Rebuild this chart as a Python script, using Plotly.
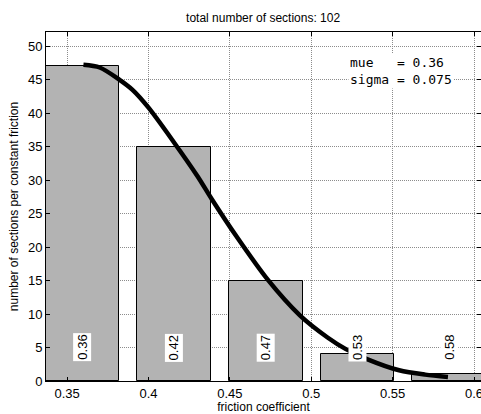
import plotly.graph_objects as go

# histogram bins (bar centers) and counts
bin_centers = [0.3592, 0.4156, 0.4720, 0.5284, 0.5848]
counts = [47, 35, 15, 4, 1]
bin_labels = ["0.36", "0.42", "0.47", "0.53", "0.58"]
bar_width = 0.0453

# fitted distribution curve
curve_x = [0.360, 0.370, 0.382, 0.390, 0.400, 0.416, 0.430, 0.439, 0.454, 0.473, 0.493, 0.510, 0.521, 0.535, 0.554, 0.570, 0.584]
curve_y = [47.2, 46.8, 45.0, 43.5, 40.8, 35.5, 30.6, 27.1, 21.6, 15.2, 9.8, 6.5, 4.8, 3.2, 1.6, 0.95, 0.6]

x_ticks = [0.35, 0.4, 0.45, 0.5, 0.55, 0.6]
x_tick_text = ["0.35", "0.4", "0.45", "0.5", "0.55", "0.6"]
y_ticks = [0, 5, 10, 15, 20, 25, 30, 35, 40, 45, 50]

title_text = "total number of sections: 102"
stats_text = "mue\u00a0\u00a0\u00a0=\u00a00.36<br>sigma\u00a0=\u00a00.075"

fig = go.Figure()
fig.add_trace(go.Bar(
    x=bin_centers, y=counts, width=bar_width,
    marker=dict(color="#b3b3b3", line=dict(color="black", width=1)),
    showlegend=False, hoverinfo="skip",
))
fig.add_trace(go.Scatter(
    x=curve_x, y=curve_y, mode="lines",
    line=dict(color="black", width=4.5, shape="spline", smoothing=0.8),
    showlegend=False, hoverinfo="skip",
))

for cx, lab in zip(bin_centers, bin_labels):
    fig.add_annotation(
        x=cx, y=5, text=lab, textangle=-90, showarrow=False,
        bgcolor="white", font=dict(size=13, color="black", family="Liberation Sans, Arial"),
        borderpad=1,
    )

fig.add_annotation(
    x=0.5225, y=46.3, xanchor="left", yanchor="middle", text=stats_text,
    showarrow=False, align="left", bgcolor="white",
    font=dict(size=13, color="black", family="DejaVu Sans Mono, monospace"),
    borderpad=1,
)

axis_common = dict(
    showline=True, linecolor="black", linewidth=1, mirror="ticks",
    ticks="inside", ticklen=4, tickcolor="black",
    showgrid=True, gridcolor="#8c8c8c", griddash="1px,1px", gridwidth=1,
    zeroline=False, automargin=False,
    tickfont=dict(size=13, color="black", family="Liberation Sans, Arial"),
)

fig.update_layout(
    width=481, height=414,
    margin=dict(l=46, r=0, t=32, b=33),
    plot_bgcolor="white", paper_bgcolor="white",
    title=dict(text=title_text, x=0.547, xanchor="center", y=0.958, yanchor="middle",
               font=dict(size=12, color="black", family="Liberation Sans, Arial")),
    bargap=0,
    xaxis=dict(range=[0.337, 0.6043], tickvals=x_ticks, ticktext=x_tick_text,
               ticklabeloverflow="allow",
               title=dict(text="friction coefficient", standoff=8,
                          font=dict(size=12, color="black", family="Liberation Sans, Arial")),
               **axis_common),
    yaxis=dict(range=[0, 52.1], tickvals=y_ticks,
               title=dict(text="number of sections per constant friction", standoff=6,
                          font=dict(size=12, color="black", family="Liberation Sans, Arial")),
               **axis_common),
)

fig.write_html(
    "out.html",
    config={"displayModeBar": False},
    post_script="document.body.style.margin='0';document.body.style.padding='0';document.body.style.overflow='hidden';",
)
